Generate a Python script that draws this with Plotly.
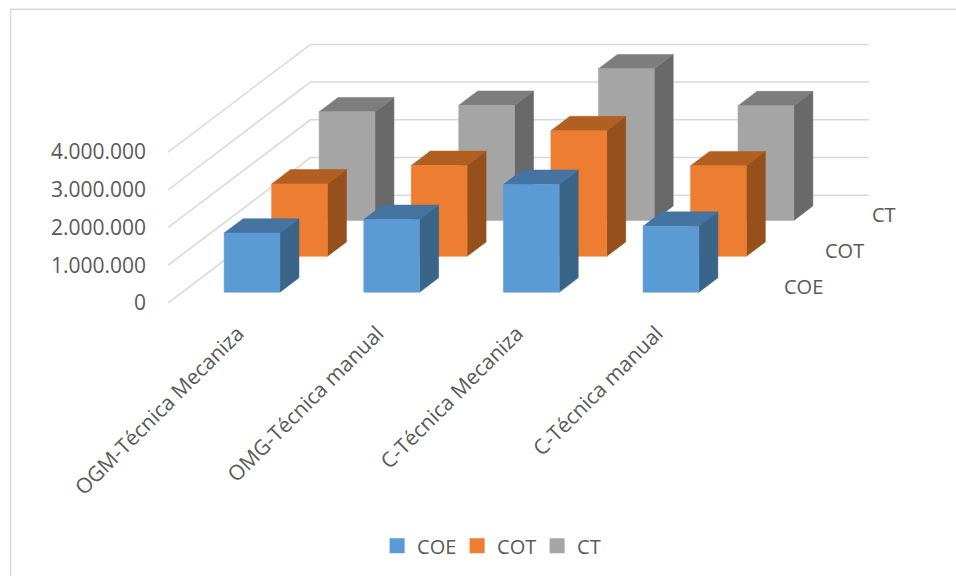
import plotly.graph_objects as go

categories = ["OGM-Técnica Mecaniza", "OMG-Técnica manual", "C-Técnica Mecaniza", "C-Técnica manual"]
series_names = ["COE", "COT", "CT"]
coe = [1570000, 1930000, 2860000, 1750000]
cot = [1920000, 2410000, 3330000, 2400000]
ct = [2880000, 3050000, 4020000, 3040000]
tick_values = [0, 1000000, 2000000, 3000000, 4000000]

front = {"COE": "#5B9BD5", "COT": "#ED7D31", "CT": "#A5A5A5"}
top = {"COE": "#44749F", "COT": "#B25F22", "CT": "#7D7D7D"}
side = {"COE": "#3A6589", "COT": "#95501C", "CT": "#696969"}
values = {"COE": coe, "COT": cot, "CT": ct}
label_shift = {"COE": 52, "COT": 46, "CT": 38}

# layout in pixels
W, H = 956, 577
X0, Y0 = 167.5, 303.5          # floor front-left corner
STEP = 139.7                   # px per category
PXM = 37.8                     # px per million
DX = 47.5 / STEP               # category units per depth slot
DV = 36 / PXM * 1e6            # value units per depth slot
YMAX = 7e6
RIGHT = 4 + 3 * DX
plot_w = RIGHT * STEP
plot_h = YMAX / 1e6 * PXM
s_idx = {"COE": 0, "COT": 1, "CT": 2}


def proj(x, z, v):
    return x + z * DX, v + z * DV


def polys(s, face):
    xs, ys = [], []
    for i, v in enumerate(values[s]):
        a, b = i + 0.3, i + 0.7
        z0, z1 = s_idx[s] + 0.3, s_idx[s] + 0.7
        if face == "front":
            pts = [(a, z0, 0), (b, z0, 0), (b, z0, v), (a, z0, v)]
        elif face == "side":
            pts = [(b, z0, 0), (b, z1, 0), (b, z1, v), (b, z0, v)]
        else:
            pts = [(a, z0, v), (b, z0, v), (b, z1, v), (a, z1, v)]
        for p in pts + pts[:1]:
            x, y = proj(*p)
            xs.append(x)
            ys.append(y)
        xs.append(None)
        ys.append(None)
    return xs, ys


fig = go.Figure()

# oblique gridlines
gx, gy = [], []
for t in tick_values:
    for p in [(0, 0, t), (0, 3, t), (4, 3, t)]:
        x, y = proj(*p)
        gx.append(x)
        gy.append(y)
    gx.append(None)
    gy.append(None)
fig.add_trace(go.Scatter(x=gx, y=gy, mode="lines", line=dict(color="#D9D9D9", width=1.5),
                         showlegend=False, hoverinfo="skip", cliponaxis=False))

for s in ["CT", "COT", "COE"]:
    for face, col in [("side", side[s]), ("top", top[s]), ("front", front[s])]:
        xs, ys = polys(s, face)
        fig.add_trace(go.Scatter(x=xs, y=ys, mode="lines", fill="toself", fillcolor=col,
                                 line=dict(color=col, width=0.5), showlegend=False,
                                 name=s, cliponaxis=False))

for s in series_names:
    fig.add_trace(go.Scatter(x=[None], y=[None], mode="markers", name=s,
                             marker=dict(symbol="square", size=15, color=front[s])))

# depth axis labels
for s in series_names:
    x, y = proj(4, s_idx[s] + 0.5, 0)
    fig.add_annotation(x=x, y=y, xref="x", yref="y", text=s, showarrow=False,
                       xanchor="center", yanchor="middle", xshift=label_shift[s] + 1, yshift=-1,
                       font=dict(family="Open Sans", size=20, color="#595959"))

fig.update_layout(
    width=W, height=H,
    margin=dict(l=X0, t=Y0 - plot_h, r=W - X0 - plot_w, b=H - Y0, autoexpand=False),
    paper_bgcolor="white", plot_bgcolor="white",
    font=dict(family="Open Sans", size=21, color="#595959"),
    legend=dict(orientation="h", x=0.52, xref="container", xanchor="center", y=0.054, yref="container",
                yanchor="middle", font=dict(size=20), itemwidth=30,
                entrywidth=35, entrywidthmode="pixels"),
    xaxis=dict(range=[0, RIGHT], showgrid=False, zeroline=False, showline=False,
               tickmode="array", tickvals=[i + 0.5 for i in range(4)], ticktext=categories,
               tickangle=-45, ticks="", ticklabelstandoff=13),
    yaxis=dict(range=[0, YMAX], showgrid=False, zeroline=False, showline=False,
               tickmode="array", tickvals=tick_values,
               ticktext=[f"{t:,}".replace(",", ".") for t in tick_values], ticks="",
               ticklabelstandoff=21),
    shapes=[
        dict(type="line", xref="paper", yref="paper",
             x0=(10 - X0) / plot_w, x1=(10 - X0) / plot_w,
             y0=(Y0 - H) / plot_h, y1=(Y0 - 9) / plot_h, line=dict(color="#D9D9D9", width=1.5)),
        dict(type="line", xref="paper", yref="paper",
             x0=(10 - X0) / plot_w, x1=(W - X0) / plot_w,
             y0=(Y0 - 9) / plot_h, y1=(Y0 - 9) / plot_h, line=dict(color="#D9D9D9", width=1.5)),
    ],
)

fig.write_html("out.html", config={"displayModeBar": False},
               post_script="document.body.style.margin='0';document.body.style.overflow='hidden';")
